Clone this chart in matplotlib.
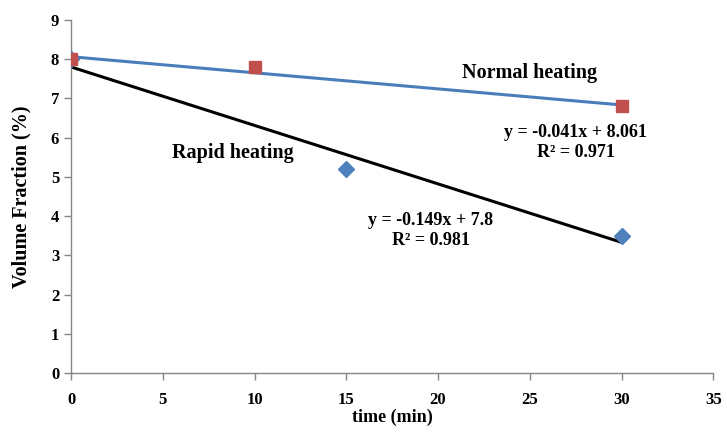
import numpy as np
import matplotlib
matplotlib.use('Agg')
import matplotlib.pyplot as plt

plt.rcParams['font.family'] = 'Liberation Serif'
plt.rcParams['font.weight'] = 'bold'
plt.rcParams['axes.labelweight'] = 'bold'

# data points
t_normal = [0, 10, 30]
vf_normal = [8.0, 7.8, 6.8]
t_rapid = [0, 15, 30]
vf_rapid = [8.0, 5.2, 3.5]

# linear trendlines (as reported on the chart)
slope_normal, icpt_normal, r2_normal = -0.041, 8.061, 0.971
slope_rapid, icpt_rapid, r2_rapid = -0.149, 7.8, 0.981

fig = plt.figure(figsize=(7.27, 4.32), dpi=100)
ax = fig.add_axes([0.0977, 0.1366, 0.8834, 0.8174])

xt = np.array([0, 30])
ax.plot(xt, slope_normal*xt + icpt_normal, color='#4A7EBB', linewidth=2.2, zorder=2)
ax.plot(xt, slope_rapid*xt + icpt_rapid, color='black', linewidth=2.2, zorder=2)

ax.plot(t_rapid, vf_rapid, linestyle='none', marker='D', markersize=8,
        color='#4F81BD', zorder=3)
ax.plot(t_normal, vf_normal, linestyle='none', marker='s', markersize=8,
        color='#C0504D', zorder=4)

ax.text(25.0, 7.65, 'Normal heating', fontsize=14.5, ha='center', va='center')
ax.text(27.5, 5.87, 'y = %.3fx + %.3f\nR\u00b2 = %.3f' % (slope_normal, icpt_normal, r2_normal),
        fontsize=13, ha='center', va='center', linespacing=1.25)
ax.text(8.8, 5.61, 'Rapid heating', fontsize=14.5, ha='center', va='center')
ax.text(19.6, 3.63, 'y = %.3fx + %.1f\nR\u00b2 = %.3f' % (slope_rapid, icpt_rapid, r2_rapid),
        fontsize=13, ha='center', va='center', linespacing=1.25)

ax.set_xlim(0, 35)
ax.set_ylim(0, 9)
ax.set_xticks(range(0, 36, 5))
ax.set_yticks(range(0, 10))
ax.tick_params(axis='both', labelsize=12, color='#868686', length=5, width=1)
ax.tick_params(axis='x', pad=9)
ax.set_xlabel('time (min)', fontsize=13, labelpad=0)
ax.set_ylabel('Volume Fraction (%)', fontsize=14.5, labelpad=14)

for s in ['top', 'right']:
    ax.spines[s].set_visible(False)
for s in ['left', 'bottom']:
    ax.spines[s].set_color('#868686')
    ax.spines[s].set_linewidth(1)

plt.savefig('out.png', dpi=100)
